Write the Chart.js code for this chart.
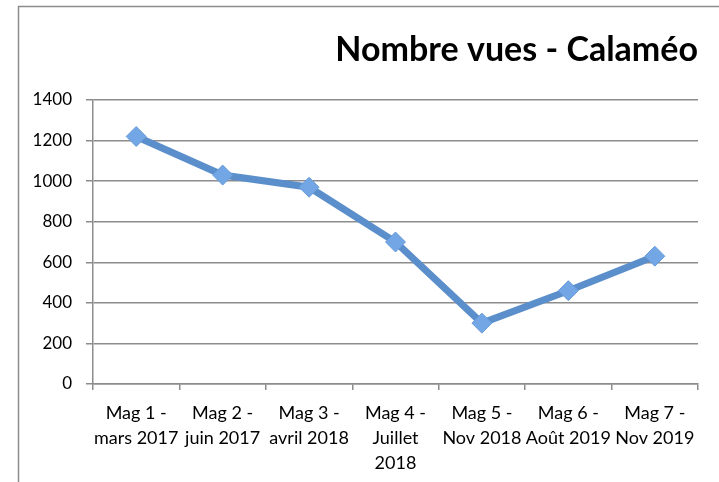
<!DOCTYPE html>
<html>
<head>
<meta charset="utf-8">
<script src="https://cdn.jsdelivr.net/npm/chart.js@4"></script>
<style>
html,body{margin:0;padding:0;background:#fff;}
#wrap{position:relative;width:719px;height:482px;overflow:hidden;}
canvas{display:block;}
</style>
</head>
<body>
<div id="wrap"><canvas id="c" width="719" height="482"></canvas></div>
<script>
const categories = [
  ['Mag 1 -', 'mars 2017'],
  ['Mag 2 -', 'juin 2017'],
  ['Mag 3 -', 'avril 2018'],
  ['Mag 4 -', 'Juillet', '2018'],
  ['Mag 5 -', 'Nov 2018'],
  ['Mag 6 -', 'Août 2019'],
  ['Mag 7 -', 'Nov 2019']
];
const views = [1220, 1030, 970, 700, 300, 460, 630];
const chartTitle = 'Nombre vues - Calaméo';
const yMin = 0, yMax = 1400, yStep = 200;

const FONT = 'Lato, "Open Sans", sans-serif';

const borderPlugin = {
  id: 'outerBorder',
  beforeDraw(chart) {
    const ctx = chart.ctx;
    ctx.save();
    ctx.fillStyle = '#fff';
    ctx.fillRect(0, 0, chart.width, chart.height);
    ctx.strokeStyle = '#8c8c8c';
    ctx.lineWidth = 1.5;
    ctx.strokeRect(18.5, 6.5, 720, 500);
    ctx.restore();
  }
};

new Chart(document.getElementById('c'), {
  type: 'line',
  data: {
    labels: categories,
    datasets: [{
      data: views,
      borderColor: '#5b8fcb',
      borderWidth: 7,
      pointStyle: 'rectRot',
      pointRadius: 10,
      pointBackgroundColor: '#72a6e4',
      pointBorderColor: '#6a9dda',
      pointBorderWidth: 1,
      tension: 0,
      fill: false
    }]
  },
  options: {
    responsive: false,
    animation: false,
    events: [],
    layout: { padding: { left: 0, right: 21, top: 0, bottom: 0 } },
    plugins: {
      legend: { display: false },
      tooltip: { enabled: false },
      title: {
        display: true,
        text: chartTitle,
        align: 'end',
        color: '#000',
        font: { family: FONT, size: 34, weight: 'bold', lineHeight: 1.2 },
        padding: { top: 30, bottom: 29.2 }
      }
    },
    scales: {
      x: {
        type: 'category',
        offset: true,
        grid: {
          offset: true,
          drawOnChartArea: false,
          drawTicks: true,
          tickLength: 6,
          color: '#8c8c8c',
          lineWidth: 1.5
        },
        border: { display: true, color: '#8c8c8c', width: 1.5 },
        ticks: {
          color: '#000',
          font: { family: FONT, size: 18, lineHeight: 1.39 },
          maxRotation: 0,
          minRotation: 0,
          autoSkip: false,
          padding: 10.5
        },
        afterFit(s) { s.height = 98; }
      },
      y: {
        min: yMin,
        max: yMax,
        ticks: {
          stepSize: yStep,
          color: '#000',
          font: { family: FONT, size: 17 },
          padding: 14,
          callback: (v) => String(v)
        },
        grid: {
          color: '#8c8c8c',
          lineWidth: 1.5,
          tickLength: 7
        },
        border: { display: true, color: '#8c8c8c', width: 1.5 },
        afterFit(s) { s.width = 93; }
      }
    }
  },
  plugins: [borderPlugin]
});
</script>
</body>
</html>
